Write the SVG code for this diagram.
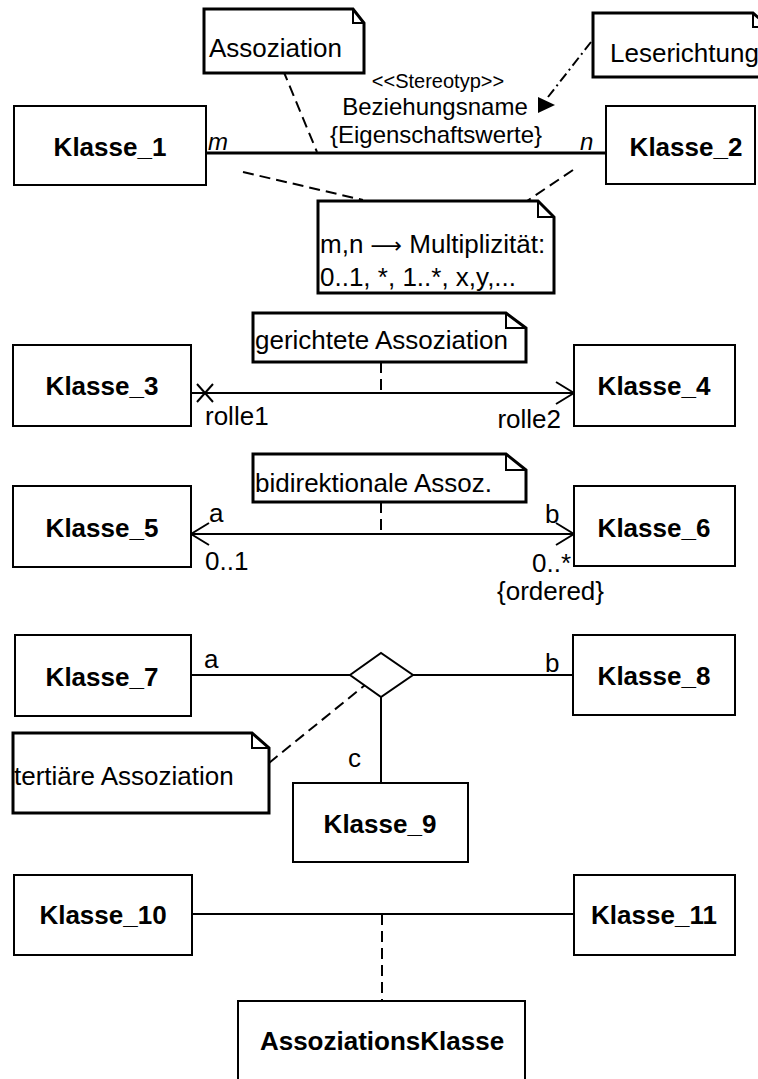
<svg xmlns="http://www.w3.org/2000/svg" width="758" height="1079" viewBox="0 0 758 1079">
<defs>
<style>
.cls{fill:#fff;stroke:#000;stroke-width:2}
.note{fill:#fff;stroke:#000;stroke-width:3;stroke-linejoin:miter}
.fold{fill:none;stroke:#000;stroke-width:2}
.t{font-family:"Liberation Sans",Arial,sans-serif;font-size:26px;fill:#000}
.b{font-family:"Liberation Sans",Arial,sans-serif;font-size:26px;font-weight:bold;fill:#000;text-anchor:middle}
.m{font-family:"Liberation Sans",Arial,sans-serif;font-size:24px;fill:#000}
.line{fill:none;stroke:#000;stroke-width:2}
.dash{fill:none;stroke:#000;stroke-width:2;stroke-dasharray:11,6}
</style>
<marker id="open" viewBox="0 0 20 24" refX="19" refY="12" markerWidth="20" markerHeight="24" markerUnits="userSpaceOnUse" orient="auto-start-reverse">
<path d="M1,1 L19,12 L1,23" fill="none" stroke="#000" stroke-width="2"/>
</marker>
</defs>
<rect width="758" height="1079" fill="#fff"/>

<g id="connectors">
<line x1="206" y1="153" x2="606" y2="153" stroke="#000" stroke-width="3"/>
<line x1="283" y1="70" x2="317" y2="152" class="dash"/>
<line x1="591" y1="42" x2="548" y2="97" fill="none" stroke="#000" stroke-width="2" stroke-dasharray="10,4,2,4"/>
<line x1="243" y1="172" x2="363" y2="200" class="dash"/>
<line x1="573" y1="170" x2="527" y2="201" class="dash"/>
<line x1="191" y1="393" x2="574" y2="393" class="line" marker-end="url(#open)"/>
<path d="M197,384 L213,402 M213,384 L197,402" class="line"/>
<line x1="381" y1="362" x2="381" y2="393" class="dash"/>
<line x1="191" y1="534" x2="574" y2="534" class="line" marker-start="url(#open)" marker-end="url(#open)"/>
<line x1="381" y1="502" x2="381" y2="534" class="dash"/>
<line x1="191" y1="675" x2="350" y2="675" class="line"/>
<line x1="413" y1="675" x2="573" y2="675" class="line"/>
<line x1="381" y1="697" x2="381" y2="783" class="line"/>
<line x1="269" y1="763" x2="365" y2="685" class="dash"/>
<line x1="192" y1="914" x2="574" y2="914" class="line"/>
<line x1="382" y1="914" x2="382" y2="1001" class="dash"/>
</g>

<g id="labels">
<text x="208" y="150" class="m" font-style="italic">m</text>
<text x="580" y="150" class="m" font-style="italic">n</text>
<text x="438" y="88" class="t" style="font-size:20px" text-anchor="middle">&lt;&lt;Stereotyp&gt;&gt;</text>
<text x="435" y="115" class="m" text-anchor="middle">Beziehungsname</text>
<polygon points="538,97 555,105 538,113" fill="#000"/>
<text x="436" y="143" class="m" text-anchor="middle">{Eigenschaftswerte}</text>
<text x="205" y="425" class="t">rolle1</text>
<text x="561" y="428" class="t" text-anchor="end">rolle2</text>
<text x="209" y="522" class="t">a</text>
<text x="545" y="523" class="t">b</text>
<text x="205" y="570" class="t">0..1</text>
<text x="571" y="572" class="t" text-anchor="end">0..*</text>
<text x="497" y="600" class="t">{ordered}</text>
<text x="204" y="668" class="t">a</text>
<text x="545" y="672" class="t">b</text>
<text x="348" y="767" class="t">c</text>
</g>

<g id="note-assoziation">
<path d="M204,9 H353 L364,23 V73 H204 Z" class="note"/>
<path d="M353,9 V23 H364" class="fold"/>
<text x="209" y="57" class="t">Assoziation</text>
</g>
<g id="note-leserichtung">
<path d="M593,13 H753 L769,27 V77 H593 Z" class="note"/>
<path d="M753,13 V27 H769" class="fold"/>
<text x="610" y="62" class="t">Leserichtung</text>
</g>
<g id="klasse1">
<rect x="14" y="106" width="192" height="79" class="cls"/>
<text x="110" y="156" class="b">Klasse_1</text>
</g>
<g id="klasse2">
<rect x="606" y="106" width="149" height="78" class="cls"/>
<text x="686" y="156" class="b">Klasse_2</text>
</g>
<g id="note-multiplizitaet">
<path d="M318,201 H538 L554,217 V293 H318 Z" class="note"/>
<path d="M538,201 V217 H554" class="fold"/>
<text x="320" y="253" class="t">m,n <tspan font-family="'DejaVu Sans',sans-serif" font-size="22">⟶</tspan> Multiplizität:</text>
<text x="320" y="286" class="t">0..1, *, 1..*, x,y,...</text>
</g>

<g id="note-gerichtet">
<path d="M253,313 H506 L526,328 V362 H253 Z" class="note"/>
<path d="M506,313 V328 H526" class="fold"/>
<text x="255" y="349" class="t">gerichtete Assoziation</text>
</g>
<g id="klasse3">
<rect x="13" y="345" width="178" height="81" class="cls"/>
<text x="102" y="395" class="b">Klasse_3</text>
</g>
<g id="klasse4">
<rect x="574" y="345" width="161" height="81" class="cls"/>
<text x="654" y="395" class="b">Klasse_4</text>
</g>

<g id="note-bidirektional">
<path d="M253,454 H506 L526,470 V502 H253 Z" class="note"/>
<path d="M506,454 V470 H526" class="fold"/>
<text x="255" y="492" class="t">bidirektionale Assoz.</text>
</g>
<g id="klasse5">
<rect x="13" y="486" width="178" height="81" class="cls"/>
<text x="102" y="537" class="b">Klasse_5</text>
</g>
<g id="klasse6">
<rect x="574" y="486" width="161" height="80" class="cls"/>
<text x="654" y="537" class="b">Klasse_6</text>
</g>

<g id="klasse7">
<rect x="15" y="635" width="176" height="81" class="cls"/>
<text x="102" y="686" class="b">Klasse_7</text>
</g>
<g id="klasse8">
<rect x="573" y="635" width="162" height="80" class="cls"/>
<text x="654" y="685" class="b">Klasse_8</text>
</g>
<g id="diamond">
<polygon points="350,675 381,653 413,675 381,697" fill="#fff" stroke="#000" stroke-width="2"/>
</g>
<g id="note-tertiaer">
<path d="M13,733 H252 L269,748 V813 H13 Z" class="note"/>
<path d="M252,733 V748 H269" class="fold"/>
<text x="14" y="785" class="t">tertiäre Assoziation</text>
</g>
<g id="klasse9">
<rect x="293" y="783" width="175" height="79" class="cls"/>
<text x="380" y="833" class="b">Klasse_9</text>
</g>

<g id="klasse10">
<rect x="14" y="875" width="178" height="80" class="cls"/>
<text x="103" y="924" class="b">Klasse_10</text>
</g>
<g id="klasse11">
<rect x="574" y="875" width="161" height="80" class="cls"/>
<text x="654" y="924" class="b">Klasse_11</text>
</g>
<g id="assoziationsklasse">
<rect x="238" y="1001" width="287" height="90" class="cls"/>
<text x="382" y="1050" class="b">AssoziationsKlasse</text>
</g>
</svg>
